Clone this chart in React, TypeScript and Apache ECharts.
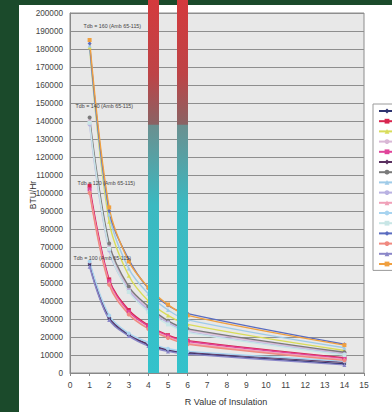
import React, { useEffect, useRef } from "react";
import * as echarts from "echarts";

const rValues = [1, 2, 3, 4, 5, 6, 14];

const xTicks = { min: 0, max: 15, interval: 1 };
const yTicks = { min: 0, max: 200000, interval: 10000 };

const groupLabels = [
  "Tdb = 160 (Amb 65-115)",
  "Tdb = 140 (Amb 65-115)",
  "Tdb = 120 (Amb 65-115)",
  "Tdb = 100 (Amb 65-115)",
];

const seriesNames = [
  "Tdb 100 / Amb 65",
  "Tdb 120 / Amb 65",
  "Tdb 160 / Amb 80",
  "Tdb 140 / Amb 80",
  "Tdb 120 / Amb 80",
  "Tdb 100 / Amb 80",
  "Tdb 140 / Amb 65",
  "Tdb 160 / Amb 95",
  "Tdb 140 / Amb 95",
  "Tdb 120 / Amb 95",
  "Tdb 100 / Amb 95",
  "Tdb 140 / Amb 115",
  "Tdb 160 / Amb 115",
  "Tdb 120 / Amb 115",
  "Tdb 100 / Amb 115",
  "Tdb 160 / Amb 65",
];

const d100a = [60000, 30000, 21000, 15500, 12500, 11000, 5000];
const c120a = [104000, 52000, 35000, 26500, 21000, 18000, 8500];
const a160b = [181000, 84000, 54000, 40000, 32000, 27000, 12500];
const b140b = [140000, 70000, 47000, 36000, 28500, 24000, 11000];
const c120b = [102000, 51000, 34000, 26000, 20500, 17500, 8000];
const d100b = [61000, 31000, 21500, 16000, 13000, 11500, 6000];
const b140a = [142000, 72000, 48000, 37000, 29000, 24500, 11500];
const a160c = [182000, 88000, 58000, 44000, 35000, 29500, 14000];
const b140c = [138000, 68000, 46000, 35000, 28000, 23000, 10500];
const c120c = [101000, 50000, 33000, 25000, 20000, 16500, 7500];
const d100c = [62000, 32000, 22000, 17000, 13500, 12000, 6500];
const b140d = [139000, 69000, 45000, 34000, 27000, 22500, 10000];
const a160d = [183000, 90000, 63000, 47000, 37500, 33000, 16000];
const c120d = [100000, 49000, 32500, 24500, 19500, 16000, 7000];
const d100d = [59000, 29500, 20500, 15000, 12000, 10500, 4500];
const a160a = [185000, 92000, 62000, 47500, 38000, 32000, 15500];

const seriesValues = [
  d100a, c120a, a160b, b140b, c120b, d100b, b140a, a160c,
  b140c, c120c, d100c, b140d, a160d, c120d, d100d, a160a,
];

const seriesColors = [
  "#2e3470", "#d8264f", "#d8dc5a", "#d9b8d6", "#e0449a", "#5a3060",
  "#7a7a7a", "#9fcbe8", "#b9b2e2", "#f0a0b8", "#a8d4f0", "#c8e6e6",
  "#5a6cc0", "#f08a80", "#8a86c8", "#f0a040",
];

const seriesSymbols = [
  "diamond", "rect", "triangle", "circle", "rect", "diamond", "circle", "triangle",
  "circle", "triangle", "circle", "rect", "diamond", "circle", "triangle", "rect",
];

// index of series carrying each group's annotation, and its label offset
const labelSeries = [15, 6, 1, 0];
const labelOffsets = [[-6, -5], [-14, -2], [-12, 7], [-16, 2]];

export default function App() {
  const ref = useRef<HTMLDivElement>(null);

  useEffect(() => {
    if (!ref.current) return;
    const chart = echarts.init(ref.current, null, { renderer: "svg" });

    const series = seriesValues.map((vals, i) => {
      const li = labelSeries.indexOf(i);
      const data = vals.map((v, j) => {
        if (j === 0 && li >= 0) {
          return {
            value: [rValues[j], v],
            label: {
              show: true,
              formatter: groupLabels[li],
              position: "top",
              align: "left",
              offset: labelOffsets[li],
              fontSize: 5.3,
              color: "#444",
              fontFamily: "Liberation Sans, Arial, sans-serif",
            },
          };
        }
        return [rValues[j], v];
      });
      return {
        name: seriesNames[i],
        type: "line",
        data,
        smooth: 0.35,
        symbol: seriesSymbols[i],
        symbolSize: 4,
        showAllSymbol: true,
        lineStyle: { width: 1.4, color: seriesColors[i] },
        itemStyle: { color: seriesColors[i] },
        z: 3,
      };
    });

    const barGradient = {
      type: "linear",
      x: 0, y: 0, x2: 0, y2: 1,
      colorStops: [
        { offset: 0, color: "#d43a3d" },
        { offset: 0.2, color: "#bd4447" },
        { offset: 0.333, color: "#8a6364" },
        { offset: 0.336, color: "#6a9090" },
        { offset: 0.55, color: "#3bb9c1" },
        { offset: 1, color: "#33c2cb" },
      ],
    };

    chart.setOption({
      animation: false,
      backgroundColor: "#ffffff",
      textStyle: { fontFamily: "Liberation Sans, Arial, sans-serif" },
      grid: {
        left: 70,
        right: 28,
        top: 13,
        bottom: 39,
        show: true,
        backgroundColor: "#e8e8e8",
        borderColor: "#8c8c8c",
        borderWidth: 1,
      },
      legend: {
        orient: "vertical",
        left: 373,
        top: 104,
        padding: [4, 4, 4, 5],
        backgroundColor: "#ffffff",
        borderColor: "#9a9a9a",
        borderWidth: 1,
        itemWidth: 16,
        itemHeight: 6,
        itemGap: 4.8,
        formatter: () => "",
        textStyle: { fontSize: 7, color: "#444" },
        data: seriesNames,
      },
      xAxis: {
        type: "value",
        min: xTicks.min,
        max: xTicks.max,
        interval: xTicks.interval,
        name: "R Value of Insulation",
        nameLocation: "middle",
        nameGap: 24,
        nameTextStyle: { fontSize: 9, color: "#333", padding: [0, 0, 0, 18] },
        axisLine: { show: true, lineStyle: { color: "#888" } },
        axisTick: { show: true, length: 3, lineStyle: { color: "#888" } },
        axisLabel: { fontSize: 8.5, color: "#444", margin: 7 },
        splitLine: { show: false },
      },
      yAxis: {
        type: "value",
        min: yTicks.min,
        max: yTicks.max,
        interval: yTicks.interval,
        axisLine: { show: true, lineStyle: { color: "#888" } },
        axisTick: { show: false },
        axisLabel: { fontSize: 8.2, color: "#444", margin: 7, formatter: (v: number) => String(v) },
        splitLine: { show: true, lineStyle: { color: "#8e8e8e", width: 1 } },
      },
      series,
      graphic: [
        { type: "rect", shape: { x: 0, y: 0, width: 392, height: 5 }, style: { fill: "#1b4a2b" }, z: 100 },
        { type: "rect", shape: { x: 0, y: 0, width: 19, height: 412 }, style: { fill: "#1b4a2b" }, z: 100 },
        {
          type: "text",
          x: 33,
          y: 195,
          rotation: Math.PI / 2,
          style: {
            text: "BTU/Hr",
            fontSize: 8.5,
            fill: "#333",
            align: "center",
            verticalAlign: "middle",
            fontFamily: "Liberation Sans, Arial, sans-serif",
          },
          z: 100,
        },
        { type: "rect", shape: { x: 148, y: 0, width: 11, height: 373 }, style: { fill: barGradient }, z: 100 },
        { type: "rect", shape: { x: 177, y: 0, width: 11, height: 373 }, style: { fill: barGradient }, z: 100 },
      ],
    });

    return () => chart.dispose();
  }, []);

  return (
    <div
      ref={ref}
      style={{ position: "fixed", left: 0, top: 0, width: 392, height: 412 }}
    />
  );
}
